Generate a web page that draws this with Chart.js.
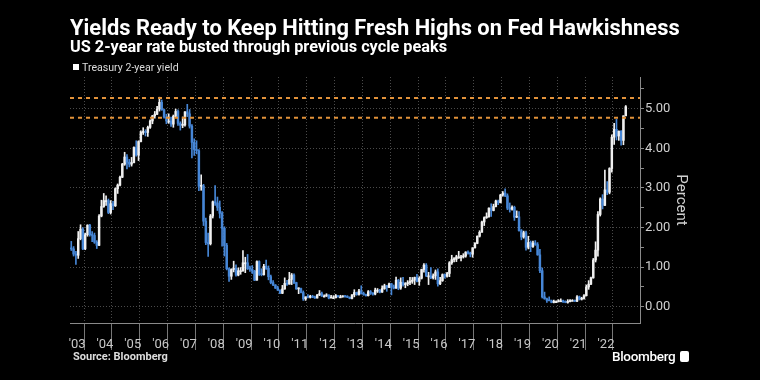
<!DOCTYPE html>
<html><head><meta charset="utf-8">
<script src="https://cdn.jsdelivr.net/npm/chart.js@4.4.0/dist/chart.umd.min.js"></script>
<style>
html,body{margin:0;padding:0;background:#000;}
#wrap{position:relative;width:760px;height:380px;background:#000;overflow:hidden;font-family:"Roboto",sans-serif;}
#c{position:absolute;left:0;top:0;}
.t{position:absolute;white-space:nowrap;color:#fff;line-height:1;}
#title{left:70px;top:17px;font-size:21.9px;font-weight:bold;}
#sub{left:70px;top:39px;font-size:16.3px;font-weight:bold;}
#leg{left:73px;top:63px;font-size:10.6px;color:#ddd;}
#leg i{display:inline-block;width:6px;height:6px;background:#fff;margin-right:3px;vertical-align:1px;}
#src{left:73px;top:351px;font-size:11px;font-weight:bold;color:#ddd;}
#logo{left:612px;top:350px;font-size:13.5px;color:#fff;font-weight:500;letter-spacing:-0.3px;}
#logo b{display:inline-block;width:9px;height:11px;background:#fff;border-radius:2px;margin-left:5px;vertical-align:-1px;}
</style></head><body>
<div id="wrap">
<canvas id="c" width="760" height="380"></canvas>
<div class="t" id="title">Yields Ready to Keep Hitting Fresh Highs on Fed Hawkishness</div>
<div class="t" id="sub">US 2-year rate busted through previous cycle peaks</div>
<div class="t" id="leg"><i></i>Treasury 2-year yield</div>
<div class="t" id="src">Source: Bloomberg</div>
<div class="t" id="logo">Bloomberg<b></b></div>
</div>
<script>
// Monthly candles, Apr 2003 .. Mar 2023
const startYear = 2003, startMonth = 4;
const open = [
1.48,1.46,1.33,1.30,1.72,1.96,1.46,1.82,2.06,
1.82,1.80,1.63,1.55,2.29,2.53,2.68,2.68,2.38,2.60,2.55,2.98,
3.07,3.27,3.60,3.78,3.65,3.60,3.64,4.02,3.83,4.17,4.40,4.42,
4.40,4.53,4.69,4.82,4.86,4.99,5.16,4.97,4.79,4.69,4.69,4.61,
4.81,4.93,4.63,4.58,4.59,4.92,4.87,4.56,4.15,3.97,3.94,3.04,
3.05,2.16,1.62,1.59,2.29,2.65,2.62,2.51,2.36,1.98,1.55,0.96,
0.77,0.94,0.97,0.80,0.91,0.91,1.11,1.11,0.96,0.95,0.90,0.67,
1.14,0.82,0.81,1.02,0.97,0.76,0.61,0.55,0.47,0.42,0.34,0.45,
0.59,0.57,0.69,0.80,0.61,0.45,0.46,0.36,0.20,0.25,0.24,0.25,
0.24,0.22,0.30,0.33,0.27,0.27,0.30,0.22,0.23,0.23,0.28,0.25,
0.25,0.26,0.25,0.24,0.21,0.30,0.36,0.31,0.40,0.33,0.31,0.28,
0.38,0.34,0.32,0.42,0.42,0.37,0.46,0.53,0.49,0.58,0.50,0.47,
0.67,0.47,0.62,0.56,0.58,0.61,0.64,0.67,0.74,0.64,0.72,0.94,
1.05,0.78,0.78,0.73,0.78,0.88,0.58,0.66,0.81,0.77,0.84,1.11,
1.19,1.20,1.26,1.26,1.26,1.28,1.38,1.35,1.33,1.49,1.60,1.78,
1.88,2.14,2.25,2.27,2.49,2.43,2.53,2.67,2.63,2.82,2.87,2.80,
2.49,2.46,2.51,2.26,2.27,1.92,1.76,1.87,1.50,1.62,1.52,1.61,
1.57,1.31,0.91,0.25,0.20,0.16,0.15,0.11,0.13,0.13,0.15,0.15,
0.12,0.11,0.13,0.16,0.16,0.14,0.25,0.19,0.21,0.28,0.50,0.57,
0.73,1.18,1.43,2.33,2.72,2.56,2.95,2.89,3.49,4.28,4.48,4.31,
4.43,4.20,4.82];
const high = [
1.65,1.52,1.40,1.90,2.07,2.00,1.86,2.07,2.08,
1.90,1.86,1.67,2.33,2.69,2.86,2.80,2.72,2.68,2.66,3.00,3.10,
3.30,3.62,3.90,3.84,3.72,3.77,4.04,4.19,4.19,4.44,4.52,4.47,
4.56,4.72,4.83,4.93,5.06,5.29,5.22,4.99,4.86,4.87,4.79,4.84,
4.99,4.97,4.67,4.79,4.93,5.11,4.98,4.60,4.24,4.19,3.97,3.33,
3.09,2.24,1.86,2.33,2.67,3.06,2.77,2.67,2.40,2.02,1.60,0.98,
0.96,1.15,1.06,0.98,0.99,1.42,1.25,1.32,1.03,1.04,0.92,1.16,
1.16,0.96,1.07,1.18,1.03,0.80,0.66,0.56,0.52,0.43,0.54,0.73,
0.67,0.87,0.84,0.83,0.62,0.48,0.47,0.40,0.25,0.31,0.29,0.29,
0.27,0.31,0.41,0.37,0.30,0.33,0.30,0.29,0.28,0.31,0.28,0.29,
0.28,0.29,0.28,0.25,0.31,0.43,0.37,0.44,0.53,0.37,0.32,0.41,
0.41,0.36,0.47,0.46,0.44,0.53,0.57,0.54,0.60,0.59,0.55,0.75,
0.69,0.73,0.74,0.61,0.66,0.74,0.74,0.75,0.82,0.76,0.95,1.09,
1.09,0.87,0.99,0.83,0.93,0.96,0.74,0.83,0.83,0.87,1.14,1.30,
1.24,1.30,1.40,1.30,1.34,1.39,1.41,1.38,1.49,1.62,1.79,1.92,
2.16,2.27,2.37,2.50,2.60,2.59,2.69,2.69,2.84,2.91,2.98,2.85,
2.62,2.55,2.54,2.42,2.40,1.95,1.91,1.91,1.78,1.66,1.66,1.67,
1.62,1.45,0.98,0.37,0.22,0.25,0.17,0.17,0.15,0.18,0.20,0.17,
0.15,0.18,0.18,0.18,0.17,0.28,0.27,0.24,0.31,0.55,0.66,0.75,
1.22,1.64,2.40,2.75,2.83,3.45,3.16,3.51,4.34,4.63,4.73,4.44,
4.45,4.82,5.08];
const low = [
1.42,1.28,1.07,1.22,1.69,1.44,1.44,1.78,1.78,
1.64,1.60,1.47,1.54,2.27,2.51,2.56,2.35,2.34,2.45,2.53,2.86,
3.05,3.26,3.57,3.48,3.53,3.55,3.63,3.80,3.69,4.16,4.35,4.31,
4.30,4.50,4.62,4.76,4.85,4.94,4.96,4.76,4.62,4.63,4.55,4.53,
4.78,4.58,4.46,4.52,4.56,4.80,4.51,3.76,3.82,3.86,2.93,2.94,
2.05,1.57,1.27,1.56,2.24,2.56,2.43,2.24,1.53,1.28,0.93,0.64,
0.69,0.88,0.77,0.78,0.82,0.89,0.86,0.94,0.89,0.84,0.66,0.67,
0.79,0.78,0.80,0.94,0.68,0.58,0.53,0.46,0.41,0.33,0.33,0.44,
0.54,0.57,0.56,0.58,0.44,0.33,0.35,0.16,0.16,0.22,0.22,0.23,
0.21,0.22,0.28,0.26,0.25,0.26,0.20,0.22,0.22,0.22,0.24,0.23,
0.24,0.24,0.23,0.20,0.20,0.25,0.29,0.29,0.32,0.29,0.27,0.27,
0.31,0.29,0.30,0.36,0.35,0.36,0.44,0.39,0.48,0.30,0.45,0.46,
0.43,0.44,0.52,0.48,0.53,0.56,0.59,0.56,0.63,0.54,0.70,0.87,
0.76,0.56,0.71,0.70,0.69,0.52,0.56,0.64,0.72,0.75,0.76,1.07,
1.13,1.14,1.22,1.16,1.23,1.25,1.33,1.26,1.25,1.48,1.59,1.76,
1.88,2.05,2.23,2.26,2.28,2.42,2.52,2.58,2.62,2.79,2.78,2.45,
2.39,2.44,2.18,2.25,1.91,1.69,1.73,1.43,1.46,1.39,1.50,1.55,
1.30,0.86,0.22,0.19,0.11,0.15,0.10,0.10,0.11,0.12,0.14,0.11,
0.10,0.09,0.12,0.15,0.13,0.13,0.17,0.17,0.19,0.27,0.44,0.56,
0.72,1.13,1.28,2.29,2.47,2.55,2.83,2.85,3.40,4.10,4.21,4.20,
4.08,4.09,4.82];
const close = [
1.46,1.33,1.30,1.72,1.96,1.46,1.82,2.06,1.82,
1.80,1.63,1.55,2.29,2.53,2.68,2.68,2.38,2.60,2.55,2.98,3.07,
3.27,3.60,3.78,3.65,3.60,3.64,4.02,3.83,4.17,4.40,4.42,4.40,
4.53,4.69,4.82,4.86,4.99,5.16,4.97,4.79,4.69,4.69,4.61,4.81,
4.93,4.63,4.58,4.59,4.92,4.87,4.56,4.15,3.97,3.94,3.04,3.05,
2.16,1.62,1.59,2.29,2.65,2.62,2.51,2.36,1.98,1.55,0.96,0.77,
0.94,0.97,0.80,0.91,0.91,1.11,1.11,0.96,0.95,0.90,0.67,1.14,
0.82,0.81,1.02,0.97,0.76,0.61,0.55,0.47,0.42,0.34,0.45,0.59,
0.57,0.69,0.80,0.61,0.45,0.46,0.36,0.20,0.25,0.24,0.25,0.24,
0.22,0.30,0.33,0.27,0.27,0.30,0.22,0.23,0.23,0.28,0.25,0.25,
0.26,0.25,0.24,0.21,0.30,0.36,0.31,0.40,0.33,0.31,0.28,0.38,
0.34,0.32,0.42,0.42,0.37,0.46,0.53,0.49,0.58,0.50,0.47,0.67,
0.47,0.62,0.56,0.58,0.61,0.64,0.67,0.74,0.64,0.72,0.94,1.05,
0.78,0.78,0.73,0.78,0.88,0.58,0.66,0.81,0.77,0.84,1.11,1.19,
1.20,1.26,1.26,1.26,1.28,1.38,1.35,1.33,1.49,1.60,1.78,1.88,
2.14,2.25,2.27,2.49,2.43,2.53,2.67,2.63,2.82,2.87,2.80,2.49,
2.46,2.51,2.26,2.27,1.92,1.76,1.87,1.50,1.62,1.52,1.61,1.57,
1.31,0.91,0.25,0.20,0.16,0.15,0.11,0.13,0.13,0.15,0.15,0.12,
0.11,0.13,0.16,0.16,0.14,0.25,0.19,0.21,0.28,0.50,0.57,0.73,
1.18,1.43,2.33,2.72,2.56,2.95,2.89,3.49,4.28,4.48,4.31,4.43,
4.20,4.82,5.05];
const peakLevels = [5.27, 4.77];          // previous cycle peaks (dashed)
const yearLabels = ["'03","'04","'05","'06","'07","'08","'09","'10","'11","'12","'13","'14","'15","'16","'17","'18","'19","'20","'21","'22"];
const yTickValues = [0,1,2,3,4,5];
const xMin = 2003.246, xMax = 2023.72;
const yMin = -0.41, yMax = 5.8;

const WHITE = '#f0f0f0', BLUE = '#4686d6';
const xs = close.map((_, i) => { const m = startMonth - 1 + i; return startYear + Math.floor(m / 12) + ((m % 12) + 0.5) / 12; });
const col = close.map((c, i) => c >= open[i] ? WHITE : BLUE);

const peakSets = peakLevels.map(v => ({
  type: 'line', data: [{x: xMin, y: v}, {x: xMax, y: v}],
  borderColor: '#e2923a', borderWidth: 2, borderDash: [4, 4], pointRadius: 0, order: 0
}));

new Chart(document.getElementById('c'), {
  type: 'bar',
  data: {
    datasets: [
      {label: 'wick', data: xs.map((x, i) => ({x, y: [low[i], high[i]]})), backgroundColor: col, barThickness: 1, grouped: false, order: 2},
      {label: 'Treasury 2-year yield', data: xs.map((x, i) => ({x, y: [open[i], close[i]]})), backgroundColor: col, barThickness: 1.8, minBarLength: 1, grouped: false, order: 1},
      ...peakSets
    ]
  },
  options: {
    responsive: false, animation: false,
    layout: {padding: {left: 70, top: 77, right: 0, bottom: 0}},
    plugins: {legend: {display: false}, tooltip: {enabled: false}, title: {display: false}},
    scales: {
      x: {
        type: 'linear', min: xMin, max: xMax, offset: false,
        afterBuildTicks: s => {
          const t = [];
          yearLabels.forEach((_, k) => { t.push({value: 2003.5 + k}); t.push({value: 2004 + k}); });
          s.ticks = t;
        },
        afterFit: s => { s.height = 57; },
        ticks: {
          autoSkip: false, maxRotation: 0, padding: -13, color: '#c8c8c8',
          font: {family: 'Roboto, sans-serif', size: 13},
          callback: v => Number.isInteger(v) ? '' : yearLabels[Math.floor(v) - 2003]
        },
        grid: {
          color: c => (c.tick && Number.isInteger(c.tick.value)) ? '#4a4a4a' : 'rgba(0,0,0,0)',
          tickColor: c => (c.tick && Number.isInteger(c.tick.value)) ? '#777' : 'rgba(0,0,0,0)',
          tickLength: 27, tickBorderDash: [], lineWidth: 1
        },
        border: {display: true, color: '#8a8a8a', width: 1, dash: [1, 2]}
      },
      y: {
        position: 'right', min: yMin, max: yMax,
        afterBuildTicks: s => {
          const t = [];
          yTickValues.forEach(v => { t.push({value: v}); t.push({value: v + 0.5}); });
          s.ticks = t;
        },
        afterFit: s => { s.width = 120; },
        ticks: {
          autoSkip: false, padding: 1, color: '#d0d0d0',
          font: {family: 'Roboto, sans-serif', size: 13},
          callback: v => Number.isInteger(v) ? v.toFixed(2) : ''
        },
        grid: {
          color: c => (c.tick && Number.isInteger(c.tick.value)) ? '#4a4a4a' : 'rgba(0,0,0,0)',
          tickColor: '#8a8a8a', tickLength: 4, tickBorderDash: []
        },
        border: {display: true, color: '#8a8a8a', width: 1, dash: [1, 2]},
        title: {
          display: true, text: 'Percent', color: '#d0d0d0',
          font: {family: 'Roboto, sans-serif', size: 15},
          padding: {top: 70, bottom: 0}
        }
      }
    }
  }
});
</script>
</body></html>
